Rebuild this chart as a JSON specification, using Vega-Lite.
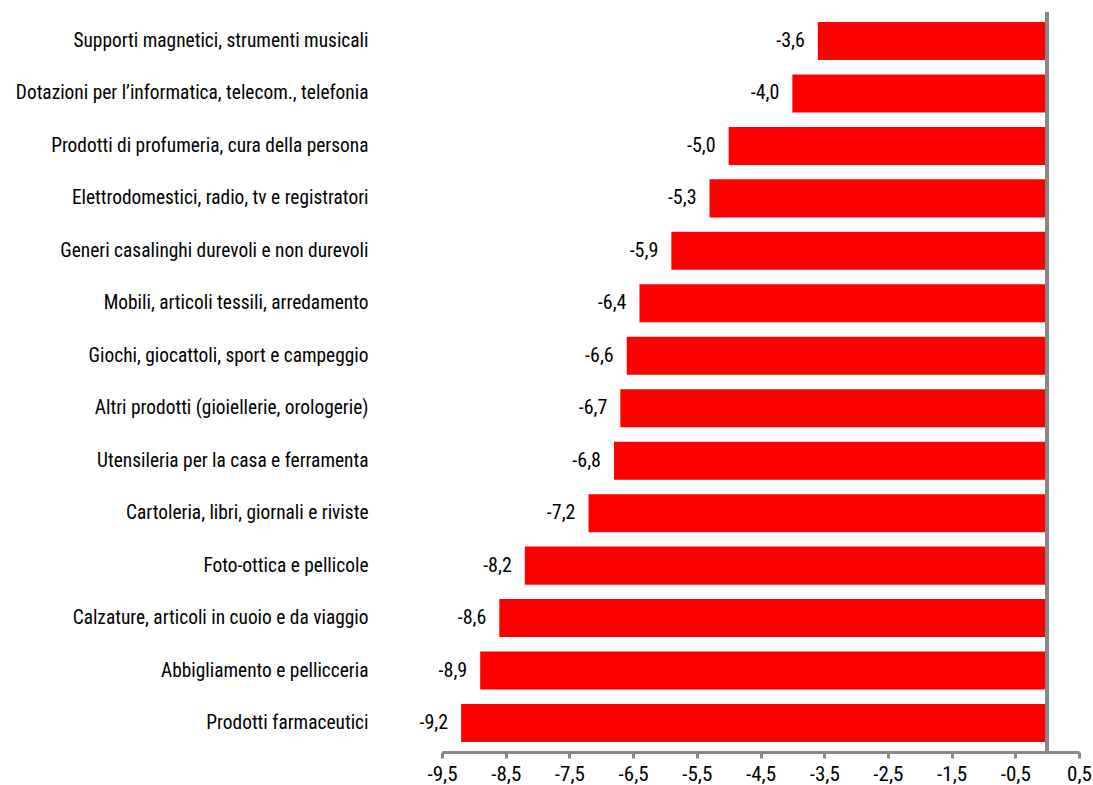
{
  "$schema": "https://vega.github.io/schema/vega-lite/v6.json",
  "autosize": "none",
  "padding": {"left": 442, "top": 12, "right": 14, "bottom": 33},
  "width": 637,
  "height": 740,
  "config": {
    "locale": {"number": {"decimal": ",", "thousands": ".", "grouping": [3], "currency": ["", " €"], "minus": "-"}},
    "view": {"stroke": null},
    "font": "Roboto Condensed"
  },
  "data": {
    "values": [
      {"categoria": "Supporti magnetici, strumenti  musicali", "valore": -3.6},
      {"categoria": "Dotazioni per l’informatica, telecom., telefonia", "valore": -4.0},
      {"categoria": "Prodotti di profumeria, cura della persona", "valore": -5.0},
      {"categoria": "Elettrodomestici, radio, tv e registratori", "valore": -5.3},
      {"categoria": "Generi casalinghi durevoli e non durevoli", "valore": -5.9},
      {"categoria": "Mobili, articoli tessili, arredamento", "valore": -6.4},
      {"categoria": "Giochi, giocattoli, sport e campeggio", "valore": -6.6},
      {"categoria": "Altri prodotti (gioiellerie, orologerie)", "valore": -6.7},
      {"categoria": "Utensileria per la casa e ferramenta", "valore": -6.8},
      {"categoria": "Cartoleria, libri, giornali e riviste", "valore": -7.2},
      {"categoria": "Foto-ottica e pellicole", "valore": -8.2},
      {"categoria": "Calzature, articoli in cuoio e da viaggio", "valore": -8.6},
      {"categoria": "Abbigliamento e pellicceria", "valore": -8.9},
      {"categoria": "Prodotti farmaceutici", "valore": -9.2}
    ]
  },
  "layer": [
    {
      "mark": {"type": "bar", "color": "#FF0000"},
      "encoding": {
        "y": {
          "field": "categoria", "type": "nominal", "sort": null,
          "scale": {"paddingInner": 0.275, "paddingOuter": 0.19},
          "axis": {
            "title": null, "domain": false, "ticks": false,
            "labelPadding": 74, "labelLimit": 500, "labelFontSize": 19.4,
            "labelColor": "#000000", "labelFont": "Roboto Condensed"
          }
        },
        "x": {
          "field": "valore", "type": "quantitative",
          "scale": {"domain": [-9.5, 0.5], "nice": false, "zero": false},
          "axis": {
            "title": null, "grid": false,
            "values": [-9.5, -8.5, -7.5, -6.5, -5.5, -4.5, -3.5, -2.5, -1.5, -0.5, 0.5],
            "format": ".1f", "labelFlush": false, "labelOverlap": false,
            "domainColor": "#878787", "domainWidth": 3,
            "tickColor": "#878787", "tickWidth": 3, "tickSize": 6,
            "labelFontSize": 21, "labelColor": "#000000", "labelPadding": 5,
            "labelFont": "Roboto Condensed"
          }
        },
        "x2": {"datum": 0}
      }
    },
    {
      "mark": {"type": "text", "align": "right", "baseline": "middle", "dx": -13, "fontSize": 20, "color": "#000000", "font": "Roboto Condensed"},
      "encoding": {
        "y": {"field": "categoria", "type": "nominal", "sort": null},
        "x": {"field": "valore", "type": "quantitative"},
        "text": {"field": "valore", "type": "quantitative", "format": ".1f"}
      }
    },
    {
      "mark": {"type": "rule", "color": "#878787", "strokeWidth": 3},
      "encoding": {"x": {"datum": 0}}
    }
  ]
}
